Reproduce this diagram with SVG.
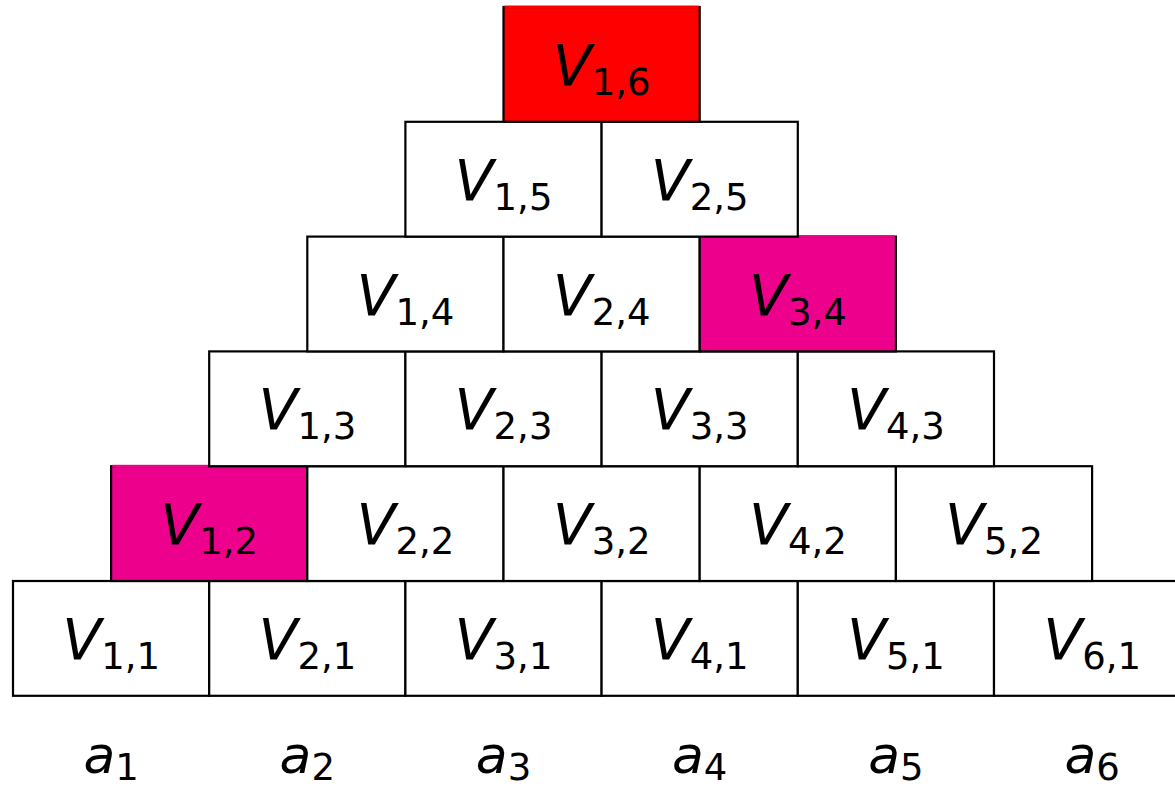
<svg xmlns="http://www.w3.org/2000/svg" width="1175" height="787" viewBox="0 0 1175 787">
  <style>
    .cell { fill: #ffffff; stroke: #000000; stroke-width: 2.2; }
    .red { fill: #ff0000; }
    .mag { fill: #ec008c; }
    .lbl { font-family: "DejaVu Sans", sans-serif; font-size: 57px; fill: #000000; text-anchor: middle; }
    .v { font-style: italic; }
    .sub { font-size: 37px; font-style: normal; }
    .idx { font-family: "DejaVu Sans", sans-serif; font-size: 52px; fill: #000000; text-anchor: middle; }
  </style>
  <rect x="0" y="0" width="1175" height="787" fill="#ffffff"/>

  <!-- row 1 -->
  <g id="v11"><rect class="cell" x="13" y="581" width="196.2" height="114.8"/><text class="lbl" x="111.1" y="660"><tspan class="v">V</tspan><tspan class="sub" dy="9">1,1</tspan></text></g>
  <g id="v21"><rect class="cell" x="209.2" y="581" width="196.2" height="114.8"/><text class="lbl" x="307.3" y="660"><tspan class="v">V</tspan><tspan class="sub" dy="9">2,1</tspan></text></g>
  <g id="v31"><rect class="cell" x="405.4" y="581" width="196.2" height="114.8"/><text class="lbl" x="503.5" y="660"><tspan class="v">V</tspan><tspan class="sub" dy="9">3,1</tspan></text></g>
  <g id="v41"><rect class="cell" x="601.6" y="581" width="196.2" height="114.8"/><text class="lbl" x="699.7" y="660"><tspan class="v">V</tspan><tspan class="sub" dy="9">4,1</tspan></text></g>
  <g id="v51"><rect class="cell" x="797.8" y="581" width="196.2" height="114.8"/><text class="lbl" x="895.9" y="660"><tspan class="v">V</tspan><tspan class="sub" dy="9">5,1</tspan></text></g>
  <g id="v61"><rect class="cell" x="994" y="581" width="196.2" height="114.8"/><text class="lbl" x="1092.1" y="660"><tspan class="v">V</tspan><tspan class="sub" dy="9">6,1</tspan></text></g>

  <!-- row 2 -->
  <g id="v12"><rect class="cell mag" x="111.1" y="466.2" width="196.2" height="114.8"/><rect class="mag" x="112.2" y="464.8" width="194" height="2.6"/><text class="lbl" x="209.2" y="545.2"><tspan class="v">V</tspan><tspan class="sub" dy="9">1,2</tspan></text></g>
  <g id="v22"><rect class="cell" x="307.3" y="466.2" width="196.2" height="114.8"/><text class="lbl" x="405.4" y="545.2"><tspan class="v">V</tspan><tspan class="sub" dy="9">2,2</tspan></text></g>
  <g id="v32"><rect class="cell" x="503.5" y="466.2" width="196.2" height="114.8"/><text class="lbl" x="601.6" y="545.2"><tspan class="v">V</tspan><tspan class="sub" dy="9">3,2</tspan></text></g>
  <g id="v42"><rect class="cell" x="699.7" y="466.2" width="196.2" height="114.8"/><text class="lbl" x="797.8" y="545.2"><tspan class="v">V</tspan><tspan class="sub" dy="9">4,2</tspan></text></g>
  <g id="v52"><rect class="cell" x="895.9" y="466.2" width="196.2" height="114.8"/><text class="lbl" x="994" y="545.2"><tspan class="v">V</tspan><tspan class="sub" dy="9">5,2</tspan></text></g>

  <!-- row 3 -->
  <g id="v13"><rect class="cell" x="209.2" y="351.4" width="196.2" height="114.8"/><text class="lbl" x="307.3" y="430.4"><tspan class="v">V</tspan><tspan class="sub" dy="9">1,3</tspan></text></g>
  <g id="v23"><rect class="cell" x="405.4" y="351.4" width="196.2" height="114.8"/><text class="lbl" x="503.5" y="430.4"><tspan class="v">V</tspan><tspan class="sub" dy="9">2,3</tspan></text></g>
  <g id="v33"><rect class="cell" x="601.6" y="351.4" width="196.2" height="114.8"/><text class="lbl" x="699.7" y="430.4"><tspan class="v">V</tspan><tspan class="sub" dy="9">3,3</tspan></text></g>
  <g id="v43"><rect class="cell" x="797.8" y="351.4" width="196.2" height="114.8"/><text class="lbl" x="895.9" y="430.4"><tspan class="v">V</tspan><tspan class="sub" dy="9">4,3</tspan></text></g>

  <!-- row 4 -->
  <g id="v14"><rect class="cell" x="307.3" y="236.6" width="196.2" height="114.8"/><text class="lbl" x="405.4" y="315.6"><tspan class="v">V</tspan><tspan class="sub" dy="9">1,4</tspan></text></g>
  <g id="v24"><rect class="cell" x="503.5" y="236.6" width="196.2" height="114.8"/><text class="lbl" x="601.6" y="315.6"><tspan class="v">V</tspan><tspan class="sub" dy="9">2,4</tspan></text></g>
  <g id="v34"><rect class="cell mag" x="699.7" y="236.6" width="196.2" height="114.8"/><rect class="mag" x="700.8" y="235.2" width="194" height="2.6"/><text class="lbl" x="797.8" y="315.6"><tspan class="v">V</tspan><tspan class="sub" dy="9">3,4</tspan></text></g>

  <!-- row 5 -->
  <g id="v15"><rect class="cell" x="405.4" y="121.8" width="196.2" height="114.8"/><text class="lbl" x="503.5" y="200.8"><tspan class="v">V</tspan><tspan class="sub" dy="9">1,5</tspan></text></g>
  <g id="v25"><rect class="cell" x="601.6" y="121.8" width="196.2" height="114.8"/><text class="lbl" x="699.7" y="200.8"><tspan class="v">V</tspan><tspan class="sub" dy="9">2,5</tspan></text></g>

  <!-- row 6 -->
  <g id="v16"><rect class="cell red" x="503.5" y="7" width="196.2" height="114.8"/><rect class="red" x="504.6" y="5.6" width="194" height="2.6"/><text class="lbl" x="601.6" y="86"><tspan class="v">V</tspan><tspan class="sub" dy="9">1,6</tspan></text></g>

  <!-- column labels -->
  <g id="labels">
    <text class="idx" x="111.1" y="773"><tspan class="v">a</tspan><tspan class="sub" dy="7">1</tspan></text>
    <text class="idx" x="307.3" y="773"><tspan class="v">a</tspan><tspan class="sub" dy="7">2</tspan></text>
    <text class="idx" x="503.5" y="773"><tspan class="v">a</tspan><tspan class="sub" dy="7">3</tspan></text>
    <text class="idx" x="699.7" y="773"><tspan class="v">a</tspan><tspan class="sub" dy="7">4</tspan></text>
    <text class="idx" x="895.9" y="773"><tspan class="v">a</tspan><tspan class="sub" dy="7">5</tspan></text>
    <text class="idx" x="1092.1" y="773"><tspan class="v">a</tspan><tspan class="sub" dy="7">6</tspan></text>
  </g>

  <g id="connectors"></g>
</svg>
